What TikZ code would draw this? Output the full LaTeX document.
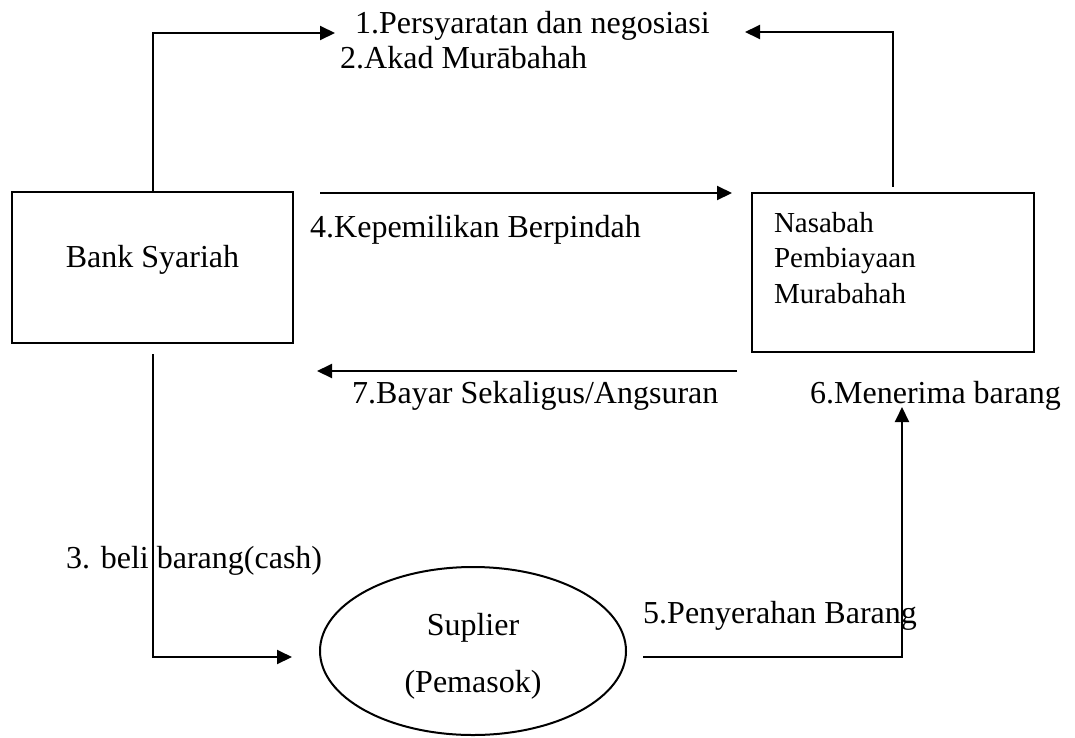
\documentclass[tikz,border=0pt]{standalone}
\usepackage{fontspec}
\setmainfont{Liberation Serif}
\usetikzlibrary{arrows.meta,shapes.geometric}

\begin{document}
\begin{tikzpicture}
  [x=1pt,y=-1pt,
   party/.style={rectangle,draw=black,line width=2.5pt,inner sep=0pt,
                 font=\fontsize{32}{38}\selectfont},
   supplier/.style={ellipse,draw=black,line width=2pt,inner sep=0pt,
                    minimum width=306pt,minimum height=168pt,
                    text width=200pt,align=center,
                    font=\fontsize{32}{57}\selectfont},
   caption/.style={anchor=base west,inner sep=0pt,
                   font=\fontsize{32}{38}\selectfont},
   flow/.style={line width=2pt,-{Triangle[length=15pt,width=14pt]}}]
  \useasboundingbox (0,0) rectangle (1075,737);

  % parties
  \node at (152.5,267.5) [party,minimum width=281pt,minimum height=151pt,
        text height=22pt,text depth=23pt] (bank) {Bank Syariah};
  \node at (893,272.5) [party,minimum width=282pt,minimum height=159pt,
        text width=238pt,align=left,text height=20pt,text depth=101pt,
        font=\fontsize{29}{35.5}\selectfont] (nasabah) {Nasabah\\Pembiayaan\\Murabahah};
  \node at (473,651) [supplier,text height=22pt,text depth=54pt] (suplier) {Suplier\\(Pemasok)};

  % step texts
  \node at (355,33) [caption] (syarat) {1.Persyaratan dan negosiasi};
  \node at (340,68) [caption] (akad) {2.Akad Murābahah};
  \node at (66,568) [caption] (beli) {3. beli barang(cash)};
  \node at (310,237) [caption] (milik) {4.Kepemilikan Berpindah};
  \node at (643,623) [caption] (serah) {5.Penyerahan Barang};
  \node at (810,403) [caption] (terima) {6.Menerima barang};
  \node at (352,403) [caption] (bayar) {7.Bayar Sekaligus/Angsuran};

  % arrow ends
  \coordinate (syaratIn) at (335,33);
  \coordinate (syaratBack) at (745,32);
  \coordinate (milikFrom) at (320,193);
  \coordinate (milikTo) at (732,193);
  \coordinate (bayarFrom) at (737,371);
  \coordinate (bayarTo) at (317,371);
  \coordinate (beliTo) at (292,657);
  \coordinate (serahFrom) at (643,657);
  \coordinate (terimaTo) at (902,407);

  \draw [flow] (bank.north) |- (syaratIn);
  \draw [flow,shorten <=5pt] (nasabah.north) |- (syaratBack);
  \draw [flow] (milikFrom) -- (milikTo);
  \draw [flow] (bayarFrom) -- (bayarTo);
  \draw [flow,shorten <=10pt] (bank.south) |- (beliTo);
  \draw [flow] (serahFrom) -| (terimaTo);
\end{tikzpicture}
\end{document}
